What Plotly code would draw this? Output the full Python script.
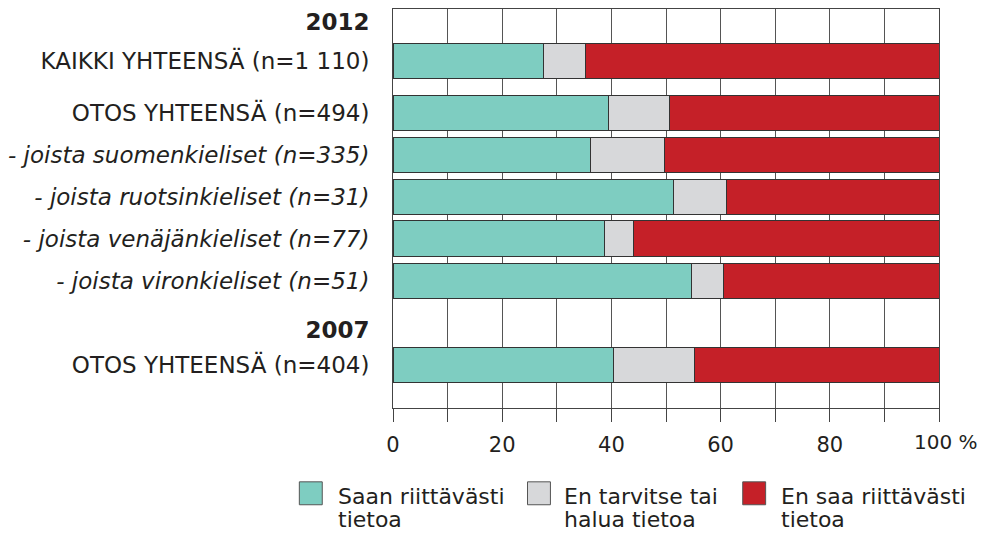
import plotly.graph_objects as go

# ---- data ----
row_labels = [
    "<b>2012</b>",
    "KAIKKI YHTEENSÄ (n=1 110)",
    "OTOS YHTEENSÄ (n=494)",
    "<i>- joista suomenkieliset (n=335)</i>",
    "<i>- joista ruotsinkieliset (n=31)</i>",
    "<i>- joista venäjänkieliset (n=77)</i>",
    "<i>- joista vironkieliset (n=51)</i>",
    "<b>2007</b>",
    "OTOS YHTEENSÄ (n=404)",
]
bar_rows = [1, 2, 3, 4, 5, 6, 8]  # indices of rows that carry bars

saan = [27.6, 39.5, 36.1, 51.4, 38.7, 54.6, 40.4]
en_tarvitse = [7.6, 11.1, 13.6, 9.7, 5.4, 6.0, 14.9]
en_saa = [64.8, 49.4, 50.3, 38.9, 55.9, 39.4, 44.7]

series_names = [
    ["Saan riittävästi", "tietoa"],
    ["En tarvitse tai", "halua tietoa"],
    ["En saa riittävästi", "tietoa"],
]
x_tickvals = [0, 10, 20, 30, 40, 50, 60, 70, 80, 90, 100]
x_ticktext = ["0", "", "20", "", "40", "", "60", "", "80", "", "100 %"]

# ---- layout / style ----
# the page body has an 8px margin; all page-pixel positions below are shifted by it
OFF = 8
row_pos = [12.8, 52.3, 104.5, 146.5, 188.6, 230.2, 272.5, 322, 356.8]
bar_height = 35.5
colors = ["#7ecdc1", "#d7d8da", "#c52028"]
FONT = "DejaVu Sans"
TXT = "#231f20"

W, H = 988 - OFF, 534 - OFF
PLOT_L, PLOT_R, PLOT_T, PLOT_B = 391, 939, 8, 408  # page pixels
ML, MT = PLOT_L - OFF, PLOT_T - OFF
PW, PH = PLOT_R - PLOT_L, PLOT_B - PLOT_T
MR, MB = W - ML - PW, H - MT - PH


def px_x(px):
    return (px - PLOT_L) / PW


def px_y(py):
    return (PLOT_B - py) / PH


fig = go.Figure()
ys = [row_pos[i] for i in bar_rows]
for vals, col, nm in zip([saan, en_tarvitse, en_saa], colors, series_names):
    fig.add_trace(go.Bar(
        x=vals, y=ys, orientation="h", width=bar_height,
        marker=dict(color=col, line=dict(color="#333333", width=1)),
        name=" ".join(nm), showlegend=False,
    ))

# manual legend
leg_sq_x = [297, 526, 742]
leg_txt_x = [335, 562, 779]
shapes = []
annotations = []
for sx, tx, col, nm in zip(leg_sq_x, leg_txt_x, colors, series_names):
    shapes.append(dict(type="rect", xref="paper", yref="paper",
                       x0=px_x(sx), x1=px_x(sx + 23), y0=px_y(505), y1=px_y(482),
                       fillcolor=col, line=dict(color="#555555", width=1)))
    for k, line in enumerate(nm):
        annotations.append(dict(xref="paper", yref="paper", x=px_x(tx),
                                y=px_y(497 + 23 * k), text=line, showarrow=False,
                                xanchor="left", yanchor="middle", borderpad=0,
                                font=dict(family=FONT, size=22, color=TXT)))

# last tick label ("100 %") drawn left-aligned so the percent sign fits like the original
tick_labels_shown = x_ticktext[:-1] + [""]
annotations.append(dict(xref="paper", yref="paper", x=px_x(913), y=px_y(442),
                        text=x_ticktext[-1], showarrow=False, xanchor="left",
                        yanchor="middle", borderpad=0,
                        font=dict(family=FONT, size=20, color=TXT)))

fig.update_layout(
    barmode="stack",
    width=W, height=H,
    margin=dict(l=ML, r=MR, t=MT, b=MB, pad=0),
    paper_bgcolor="white", plot_bgcolor="white",
    font=dict(family=FONT, size=21, color=TXT),
    shapes=shapes, annotations=annotations,
    xaxis=dict(range=[0, 100], tickvals=x_tickvals, ticktext=tick_labels_shown,
               showgrid=True, gridcolor="#555555", gridwidth=1,
               showline=True, linecolor="#444444", linewidth=1, mirror=True,
               ticks="outside", ticklen=13, tickcolor="#444444", tickwidth=1,
               ticklabelstandoff=5,
               zeroline=False, tickfont=dict(family=FONT, size=21, color=TXT)),
    yaxis=dict(range=[PH, 0], tickvals=row_pos, ticktext=row_labels,
               showgrid=False, zeroline=False,
               showline=True, linecolor="#444444", linewidth=1, mirror=True,
               ticks="", ticklabelstandoff=18,
               tickfont=dict(family=FONT, size=23, color=TXT)),
)

fig.write_html("out.html")
